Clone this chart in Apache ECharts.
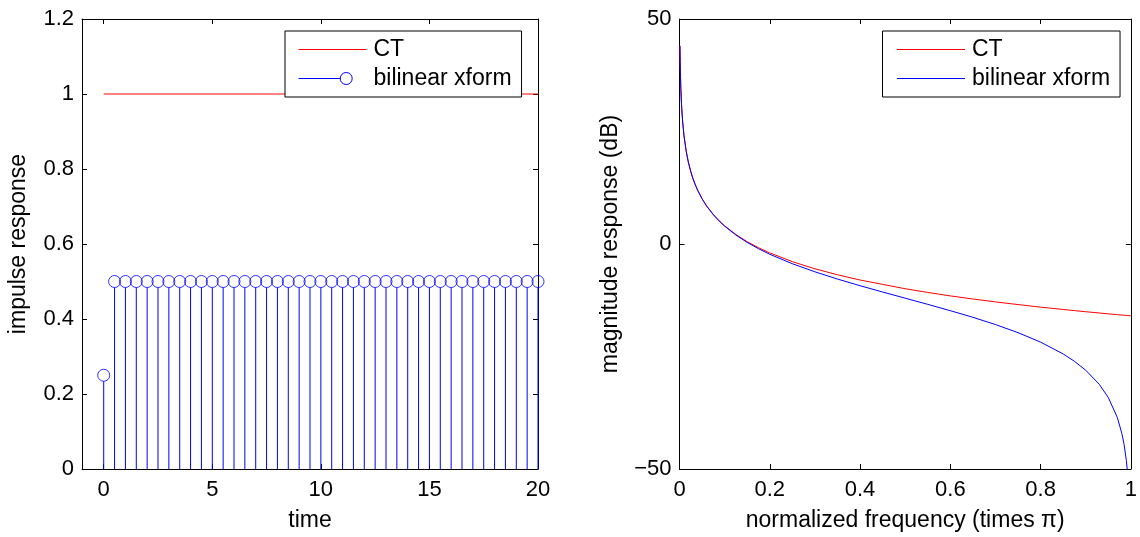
<!DOCTYPE html>
<html>
<head>
<meta charset="utf-8">
<script src="https://cdn.jsdelivr.net/npm/echarts@6/dist/echarts.min.js"></script>
<style>
html,body{margin:0;padding:0;background:#fff;}
#chart{width:1140px;height:537px;}
</style>
</head>
<body>
<div id="chart"></div>
<script>
// ---- Left panel: impulse response ----
const times = [0,0.5,1,1.5,2,2.5,3,3.5,4,4.5,5,5.5,6,6.5,7,7.5,8,8.5,9,9.5,10,10.5,11,11.5,12,12.5,13,13.5,14,14.5,15,15.5,16,16.5,17,17.5,18,18.5,19,19.5,20];
const impulseBL = [0.25,0.5,0.5,0.5,0.5,0.5,0.5,0.5,0.5,0.5,0.5,0.5,0.5,0.5,0.5,0.5,0.5,0.5,0.5,0.5,0.5,0.5,0.5,0.5,0.5,0.5,0.5,0.5,0.5,0.5,0.5,0.5,0.5,0.5,0.5,0.5,0.5,0.5,0.5,0.5,0.5];
const ctTimes = [0, 20];
const impulseCT = [1, 1];
const timeTicks = [0, 5, 10, 15, 20];

// ---- Right panel: magnitude response (dB) ----
const freq = [0.001,0.0015,0.002,0.003,0.004,0.005,0.007,0.01,0.015,0.02,0.025,0.03,0.035,0.04,0.05,0.06,0.075,0.09,0.1,0.125,0.15,0.175,0.2,0.25,0.3,0.35,0.4,0.45,0.5,0.55,0.6,0.65,0.7,0.75,0.8,0.85,0.875,0.9,0.93,0.95,0.97,0.98,0.985,0.99,0.993,1.0];
const magCT = [44.04,40.51,38.02,34.49,31.99,30.06,27.13,24.04,20.51,18.01,16.08,14.49,13.16,11.99,10.06,8.47,6.54,4.95,4.04,2.10,0.51,-0.82,-1.98,-3.92,-5.51,-6.84,-8.00,-8.97,-9.94,-10.77,-11.53,-12.22,-12.87,-13.46,-14.03,-14.55,-14.80,-15.05,-15.33,-15.52,-15.70,-15.79,-15.83,-15.88,-15.90,-15.96];
const magBL = [44.04,40.51,38.02,34.49,31.99,30.06,27.13,24.04,20.51,18.01,16.07,14.48,13.15,11.98,10.04,8.44,6.50,4.89,3.96,1.99,0.35,-1.05,-2.28,-4.38,-6.18,-7.79,-9.27,-10.67,-12.04,-13.41,-14.82,-16.29,-17.90,-19.70,-21.81,-24.43,-26.07,-28.05,-31.18,-34.12,-38.56,-42.09,-44.59,-48.12,-51.21,null];

const FONT = 'Liberation Sans';
const FS = 22;     // tick labels
const FS_T = 23;   // axis names / legend
const BLUE = '#0000ff';
const RED = '#ff0000';
const MARK_R = 6;

const zip = (a, b) => a.map((v, i) => [v, b[i]]);
const nameMap = {'CT': 'CT', 'bilinear xform': 'bilinear xform', 'CT mag': 'CT', 'bilinear xform mag': 'bilinear xform'};
const minus = v => (v < 0 ? '\u2212' + Math.abs(v) : String(v));

const tickTxt = {fontFamily: FONT, fontSize: FS, color: '#000'};
const nameTxt = {fontFamily: FONT, fontSize: FS_T, color: '#000'};
const lineAx = {show: true, onZero: false, lineStyle: {color: '#000', width: 1}};
const tickIn = {show: true, inside: true, length: 5, lineStyle: {color: '#000', width: 1}};

const lineIcon = 'path://M0,0 L0,0 M0,6 L68,6 M0,12 L0,12';
const stemIcon = 'path://M0,6 L42,6 M53.7,6 A6,6 0 1 1 41.7,6 A6,6 0 1 1 53.7,6 M68,6 L68,6 M0,0 L0,0 M0,12 L0,12';
const iconStyle = c => ({color: 'rgba(0,0,0,0)', borderColor: c, borderWidth: 1});

const legendBase = {
  top: 31, orient: 'vertical', itemWidth: 68, itemHeight: 12, itemGap: 6,
  padding: [7, 10, 7, 13], backgroundColor: '#fff', borderColor: '#000', borderWidth: 1,
  borderRadius: 0,
  textStyle: {fontFamily: FONT, fontSize: FS_T, color: '#000', padding: [0, 0, 0, 2]},
  formatter: n => nameMap[n]
};

const chart = echarts.init(document.getElementById('chart'), null, {renderer: 'canvas'});
const option = {
  animation: false,
  backgroundColor: '#fff',
  grid: [
    {left: 82, right: 602, top: 19, bottom: 63.5},
    {left: 679.5, right: 8, top: 19, bottom: 63.5}
  ],
  xAxis: [
    {gridIndex: 0, type: 'value', min: -1, max: 20, position: 'bottom',
     axisLine: lineAx, splitLine: {show: false},
     axisTick: Object.assign({customValues: timeTicks}, tickIn),
     axisLabel: Object.assign({customValues: timeTicks, margin: 10}, tickTxt),
     name: 'time', nameLocation: 'middle', nameGap: 40, nameTextStyle: nameTxt},
    {gridIndex: 0, type: 'value', min: -1, max: 20, position: 'top',
     axisLine: lineAx, splitLine: {show: false},
     axisTick: Object.assign({customValues: timeTicks}, tickIn),
     axisLabel: {show: false}},
    {gridIndex: 1, type: 'value', min: 0, max: 1, interval: 0.2, position: 'bottom',
     axisLine: lineAx, splitLine: {show: false}, axisTick: tickIn,
     axisLabel: Object.assign({margin: 10}, tickTxt),
     name: 'normalized frequency (times \u03c0)', nameLocation: 'middle', nameGap: 40, nameTextStyle: nameTxt},
    {gridIndex: 1, type: 'value', min: 0, max: 1, interval: 0.2, position: 'top',
     axisLine: lineAx, splitLine: {show: false}, axisTick: tickIn, axisLabel: {show: false}}
  ],
  yAxis: [
    {gridIndex: 0, type: 'value', min: 0, max: 1.2, interval: 0.2, position: 'left',
     axisLine: lineAx, splitLine: {show: false}, axisTick: tickIn,
     axisLabel: Object.assign({margin: 8}, tickTxt),
     name: 'impulse response', nameLocation: 'middle', nameGap: 52, nameTextStyle: nameTxt},
    {gridIndex: 0, type: 'value', min: 0, max: 1.2, interval: 0.2, position: 'right',
     axisLine: lineAx, splitLine: {show: false}, axisTick: tickIn, axisLabel: {show: false}},
    {gridIndex: 1, type: 'value', min: -50, max: 50, interval: 50, position: 'left',
     axisLine: lineAx, splitLine: {show: false}, axisTick: tickIn,
     axisLabel: Object.assign({margin: 8, formatter: minus}, tickTxt),
     name: 'magnitude response (dB)', nameLocation: 'middle', nameGap: 57, nameTextStyle: nameTxt},
    {gridIndex: 1, type: 'value', min: -50, max: 50, interval: 50, position: 'right',
     axisLine: lineAx, splitLine: {show: false}, axisTick: tickIn, axisLabel: {show: false}}
  ],
  legend: [
    Object.assign({}, legendBase, {left: 285,
      data: [
        {name: 'CT', icon: lineIcon, itemStyle: iconStyle(RED)},
        {name: 'bilinear xform', icon: stemIcon, itemStyle: iconStyle(BLUE)}
      ]}),
    Object.assign({}, legendBase, {left: 882.5, padding: [7, 10, 7, 14],
      data: [
        {name: 'CT mag', icon: lineIcon, itemStyle: iconStyle(RED)},
        {name: 'bilinear xform mag', icon: lineIcon, itemStyle: iconStyle(BLUE)}
      ]})
  ],
  series: [
    {name: 'CT', type: 'line', xAxisIndex: 0, yAxisIndex: 0, data: zip(ctTimes, impulseCT),
     symbol: 'none', lineStyle: {color: RED, width: 1}, itemStyle: {color: RED}},
    {name: 'bilinear xform', type: 'custom', xAxisIndex: 0, yAxisIndex: 0,
     data: zip(times, impulseBL), itemStyle: {color: BLUE},
     renderItem: function (params, api) {
       const x = api.value(0), y = api.value(1);
       const p0 = api.coord([x, 0]);
       const p1 = api.coord([x, y]);
       return {type: 'line',
         shape: {x1: p0[0], y1: p0[1], x2: p1[0], y2: p1[1] + MARK_R},
         style: {stroke: BLUE, lineWidth: 1}};
     }},
    {name: 'bilinear xform markers', type: 'scatter', xAxisIndex: 0, yAxisIndex: 0,
     data: zip(times, impulseBL), symbol: 'circle', symbolSize: MARK_R * 2,
     itemStyle: {color: 'rgba(0,0,0,0)', borderColor: BLUE, borderWidth: 1}, z: 3},
    {name: 'CT mag', type: 'line', xAxisIndex: 2, yAxisIndex: 2, data: zip(freq, magCT),
     symbol: 'none', clip: true, lineStyle: {color: RED, width: 1}, itemStyle: {color: RED}},
    {name: 'bilinear xform mag', type: 'line', xAxisIndex: 2, yAxisIndex: 2, data: zip(freq, magBL),
     symbol: 'none', clip: true, lineStyle: {color: BLUE, width: 1}, itemStyle: {color: BLUE}, z: 3}
  ]
};
chart.setOption(option);
</script>
</body>
</html>
